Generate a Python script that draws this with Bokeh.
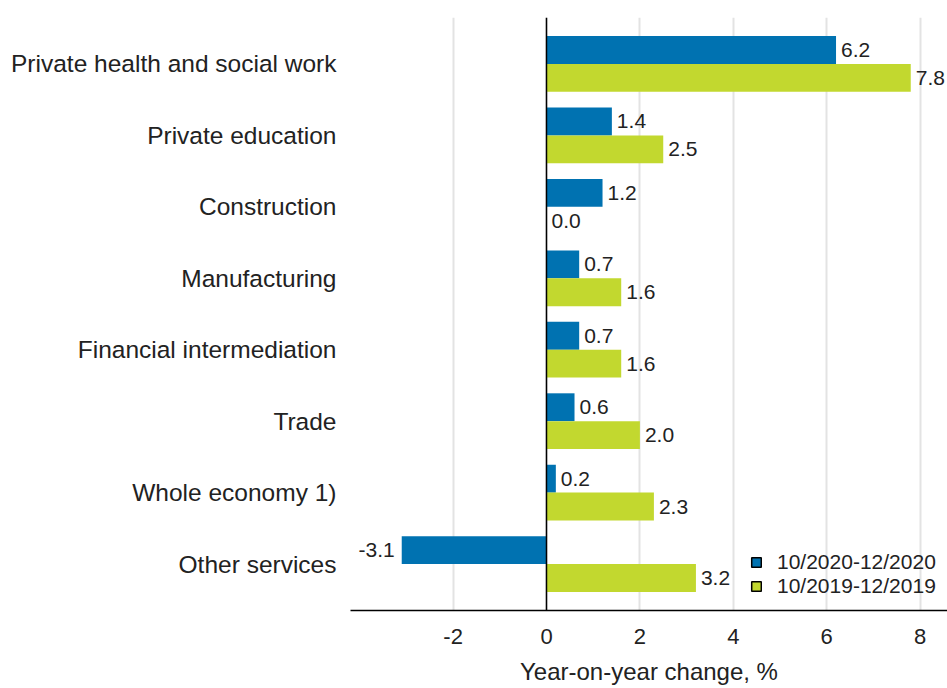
from bokeh.plotting import figure
from bokeh.models import (Range1d, FixedTicker, Span, Legend, LegendItem,
                          ColumnDataSource)
from bokeh.core.properties import value
from bokeh.embed import file_html
from bokeh.resources import INLINE

# ---- data ----
categories = ["Private health and social work", "Private education", "Construction",
              "Manufacturing", "Financial intermediation", "Trade",
              "Whole economy 1)", "Other services"]
series_names = ["10/2020-12/2020", "10/2019-12/2019"]
values_2020 = [6.2, 1.4, 1.2, 0.7, 0.7, 0.6, 0.2, -3.1]
values_2019 = [7.8, 2.5, 0.0, 1.6, 1.6, 2.0, 2.3, 3.2]
x_ticks = [-2, 0, 2, 4, 6, 8]
axis_title = "Year-on-year change, %"

BLUE = "#0072b1"
GREEN = "#c2d82f"
TEXT = "#222222"
FONT = "Liberation Sans"

n = len(categories)
pos = list(range(n))
bar_h = 0.39
off = bar_h / 2

p = figure(width=947, height=688, output_backend="svg", toolbar_location=None,
           x_range=Range1d(-4.197, 8.587), y_range=Range1d(n - 1 + 0.65, -0.65),
           min_border_left=350, min_border_right=0, min_border_top=17,
           min_border_bottom=78)
p.outline_line_color = None
p.background_fill_color = "white"
p.border_fill_color = "white"

# grid
p.ygrid.grid_line_color = None
p.xgrid.grid_line_color = "#e3e3e3"
p.xgrid.grid_line_width = 2

# bars
src_a = ColumnDataSource(dict(y=[v - off for v in pos], right=values_2020))
src_b = ColumnDataSource(dict(y=[v + off for v in pos], right=values_2019))
p.hbar(y="y", left=0, right="right", height=bar_h, source=src_a,
       fill_color=BLUE, line_color=None)
p.hbar(y="y", left=0, right="right", height=bar_h, source=src_b,
       fill_color=GREEN, line_color=None)

# zero line
p.add_layout(Span(location=0, dimension="height", line_color="black", line_width=1.5))

# value labels
def add_labels(vals, shift):
    ys = [v + shift for v in pos]
    px = [(x, y, f"{x:.1f}") for x, y in zip(vals, ys) if x >= 0]
    nx = [(x, y, f"{x:.1f}") for x, y in zip(vals, ys) if x < 0]
    if px:
        p.text(x=[a[0] for a in px], y=[a[1] for a in px], text=[a[2] for a in px],
               x_offset=5, text_align="left", text_baseline="middle",
               text_font=value(FONT), text_font_size="21px", text_color=TEXT)
    if nx:
        p.text(x=[a[0] for a in nx], y=[a[1] for a in nx], text=[a[2] for a in nx],
               x_offset=-7, text_align="right", text_baseline="middle",
               text_font=value(FONT), text_font_size="21px", text_color=TEXT)

add_labels(values_2020, -off)
add_labels(values_2019, off)

# axes
xa = p.xaxis[0]
xa.ticker = FixedTicker(ticks=x_ticks)
xa.major_label_overrides = {t: str(t) for t in x_ticks}
xa.axis_line_color = "black"
xa.axis_line_width = 1.5
xa.major_tick_out = 0
xa.major_tick_in = 0
xa.minor_tick_out = 0
xa.minor_tick_in = 0
xa.major_label_standoff = 18
xa.major_label_text_font = FONT
xa.major_label_text_font_size = "22px"
xa.major_label_text_color = TEXT
xa.axis_label = axis_title
xa.axis_label_text_font = FONT
xa.axis_label_text_font_size = "24px"
xa.axis_label_text_font_style = "normal"
xa.axis_label_text_color = TEXT
xa.axis_label_standoff = 11

ya = p.yaxis[0]
ya.ticker = FixedTicker(ticks=pos)
ya.major_label_overrides = {i: c for i, c in enumerate(categories)}
ya.axis_line_color = None
ya.major_tick_out = 0
ya.major_tick_in = 0
ya.minor_tick_out = 0
ya.minor_tick_in = 0
ya.major_label_standoff = 14
ya.major_label_text_font = FONT
ya.major_label_text_font_size = "24.5px"
ya.major_label_text_color = TEXT

# legend (outlined swatches)
nan = float("nan")
la = p.quad(left=[nan], right=[nan], top=[nan], bottom=[nan],
            fill_color=BLUE, line_color="black", line_width=1.5)
lb = p.quad(left=[nan], right=[nan], top=[nan], bottom=[nan],
            fill_color=GREEN, line_color="black", line_width=1.5)
legend = Legend(items=[LegendItem(label=series_names[0], renderers=[la]),
                       LegendItem(label=series_names[1], renderers=[lb])],
                location=(400, 12), padding=0, margin=0, spacing=0,
                glyph_width=12, glyph_height=12, label_standoff=15,
                label_height=20, label_text_font=FONT, label_text_font_size="21px",
                label_text_color=TEXT, border_line_color=None,
                background_fill_alpha=0)
p.add_layout(legend)

open("out.html", "w").write(file_html(p, INLINE))
